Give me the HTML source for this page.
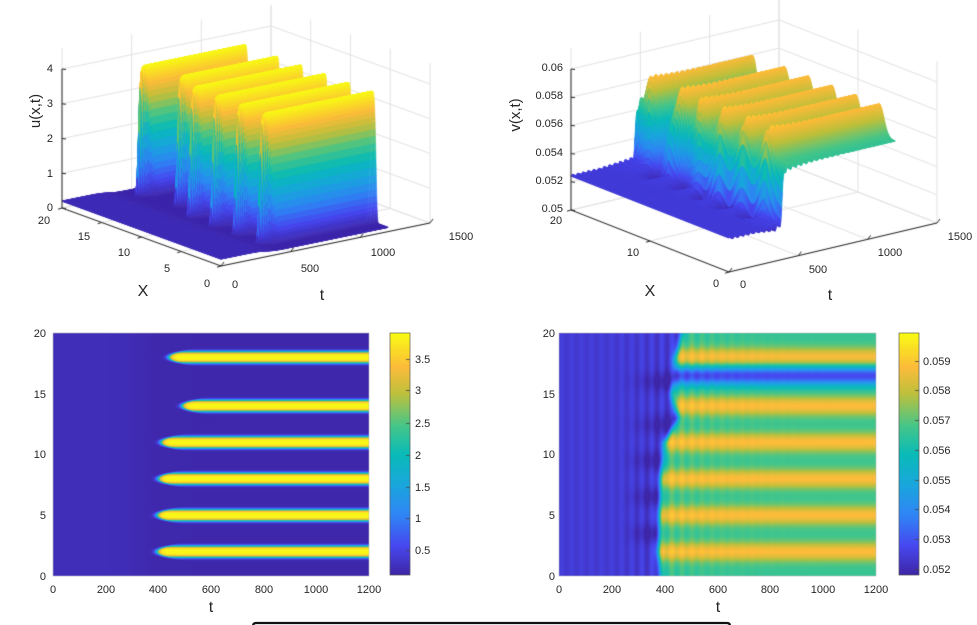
<!DOCTYPE html>
<html><head><meta charset="utf-8">
<style>
html,body{margin:0;padding:0;background:#fff;}
#wrap{position:relative;width:977px;height:625px;overflow:hidden;font-family:"Liberation Sans",Arial,sans-serif;}
canvas,svg{position:absolute;left:0;top:0;}
svg text{fill:#262626;font-size:11px;}
.lbl{font-size:16px;}
.ylbl{font-size:15px;}
</style></head>
<body>
<div id="wrap">
<canvas id="cv" width="977" height="625"></canvas>
<svg id="sv" width="977" height="625">
 <g>
  <g text-anchor="end">
   <text x="53" y="211">0</text><text x="53" y="177">1</text><text x="53" y="142">2</text><text x="53" y="107">3</text><text x="53" y="72">4</text>
  </g>
  <g text-anchor="middle">
   <text x="44" y="224">20</text><text x="84" y="240">15</text><text x="124" y="256">10</text><text x="167" y="272">5</text><text x="207" y="287">0</text>
  </g>
  <g text-anchor="middle">
   <text x="235" y="288">0</text><text x="310" y="272">500</text><text x="383" y="256">1000</text><text x="461" y="240">1500</text>
  </g>
  <text class="lbl" x="143" y="296" text-anchor="middle">X</text>
  <text class="lbl" x="322" y="300" text-anchor="middle">t</text>
  <text class="ylbl" transform="translate(40,111) rotate(-90)" text-anchor="middle">u(x,t)</text>
 </g>
 <g>
  <g text-anchor="end">
   <text x="563" y="212">0.05</text><text x="563" y="184">0.052</text><text x="563" y="156">0.054</text><text x="563" y="127">0.056</text><text x="563" y="99">0.058</text><text x="563" y="71">0.06</text>
  </g>
  <g text-anchor="middle">
   <text x="556" y="224">20</text><text x="633" y="256">10</text><text x="716" y="287">0</text>
  </g>
  <g text-anchor="middle">
   <text x="743" y="288">0</text><text x="818" y="273">500</text><text x="890" y="256">1000</text><text x="960" y="240">1500</text>
  </g>
  <text class="lbl" x="650" y="296" text-anchor="middle">X</text>
  <text class="lbl" x="830" y="300" text-anchor="middle">t</text>
  <text class="ylbl" transform="translate(520,115) rotate(-90)" text-anchor="middle">v(x,t)</text>
 </g>
 <g>
  <rect x="53" y="333" width="316" height="243" fill="none" stroke="#bbb" stroke-width="0.5"/>
  <g text-anchor="end">
   <text x="46" y="337">20</text><text x="46" y="398">15</text><text x="46" y="458">10</text><text x="46" y="519">5</text><text x="46" y="580">0</text>
  </g>
  <g text-anchor="middle">
   <text x="53" y="593">0</text><text x="106" y="593">200</text><text x="158" y="593">400</text><text x="211" y="593">600</text><text x="264" y="593">800</text><text x="316" y="593">1000</text><text x="369" y="593">1200</text>
  </g>
  <text class="lbl" x="211" y="612" text-anchor="middle">t</text>
  <rect x="390" y="333" width="20" height="242" fill="none" stroke="#444" stroke-width="0.6"/>
  <g>
   <text x="415" y="363">3.5</text><text x="415" y="394">3</text><text x="415" y="427">2.5</text><text x="415" y="459">2</text><text x="415" y="491">1.5</text><text x="415" y="522">1</text><text x="415" y="554">0.5</text>
  </g>
 </g>
 <g>
  <rect x="559" y="333" width="317" height="243" fill="none" stroke="#bbb" stroke-width="0.5"/>
  <g text-anchor="end">
   <text x="555" y="337">20</text><text x="555" y="398">15</text><text x="555" y="458">10</text><text x="555" y="519">5</text><text x="555" y="580">0</text>
  </g>
  <g text-anchor="middle">
   <text x="559" y="593">0</text><text x="612" y="593">200</text><text x="665" y="593">400</text><text x="718" y="593">600</text><text x="770" y="593">800</text><text x="823" y="593">1000</text><text x="876" y="593">1200</text>
  </g>
  <text class="lbl" x="718" y="612" text-anchor="middle">t</text>
  <rect x="899" y="333" width="20" height="242" fill="none" stroke="#444" stroke-width="0.6"/>
  <g>
   <text x="923" y="365">0.059</text><text x="923" y="394">0.058</text><text x="923" y="424">0.057</text><text x="923" y="454">0.056</text><text x="923" y="484">0.055</text><text x="923" y="513">0.054</text><text x="923" y="543">0.053</text><text x="923" y="573">0.052</text>
  </g>
 </g>
 <path d="M253,633 L253,626 Q253,623 256,623 L727,623 Q730,623 730,626 L730,633" fill="none" stroke="#111" stroke-width="2.2"/>
</svg>
</div>
<script>
const stripeX = [2, 5, 8, 11, 14, 18];
const uOnsetT = [395, 395, 400, 410, 490, 440];
const uPeak = 3.75;
const uBase = 0.12;
const vOnsetX = [0, 2, 5, 8, 11, 13, 15, 18, 20];
const vOnsetT = [385, 375, 380, 385, 400, 450, 425, 440, 465];
const vPre = 0.0524;
const vBg = 0.0565;
const vPeak = 0.0587;
const vDipX = 16.5;
const vDip = 0.0038;
const uClim = [0.1, 3.9];
const vClim = [0.0518, 0.0598];

const cmPos = [0, 0.12, 0.25, 0.37, 0.5, 0.62, 0.75, 0.86, 1];
const cmCol = [[62,38,168],[71,72,240],[47,134,245],[26,166,221],[9,187,184],[72,198,135],[190,192,60],[252,188,58],[249,251,21]];
function parula(f){
  f = Math.max(0, Math.min(1, f));
  for (let i = 1; i < cmPos.length; i++) {
    if (f <= cmPos[i]) {
      const a = (f - cmPos[i-1]) / (cmPos[i] - cmPos[i-1]);
      const c0 = cmCol[i-1], c1 = cmCol[i];
      return [c0[0]+(c1[0]-c0[0])*a, c0[1]+(c1[1]-c0[1])*a, c0[2]+(c1[2]-c0[2])*a];
    }
  }
  return cmCol[cmCol.length-1];
}
function sig(x){ return 1/(1+Math.exp(-x)); }
function interp(xs, ys, x){
  if (x <= xs[0]) return ys[0];
  for (let i = 1; i < xs.length; i++) if (x <= xs[i]) { const a=(x-xs[i-1])/(xs[i]-xs[i-1]); return ys[i-1]+(ys[i]-ys[i-1])*a; }
  return ys[ys.length-1];
}
function uVal(X, t){
  let u = uBase + 0.08*(1 - sig((t-330)/30));
  for (let i = 0; i < stripeX.length; i++) {
    const d = Math.abs(X - stripeX[i]);
    const g = Math.exp(-Math.pow(d/0.5, 4));
    const s = sig((t - uOnsetT[i] - 45*Math.pow(d/0.5, 2)) / 6);
    u += uPeak * g * s;
  }
  return u;
}
function vVal(X, t){
  const T = interp(vOnsetX, vOnsetT, X);
  const s = sig((t - T) / 6);
  let post = vBg;
  for (let i = 0; i < stripeX.length; i++) {
    const d = X - stripeX[i];
    post += (vPeak - vBg) * Math.exp(-(d*d)/(0.8*0.8));
  }
  post -= vDip * Math.exp(-Math.pow((X - vDipX)/0.8, 2));
  let btw = 0;
  for (let i = 0; i < stripeX.length - 1; i++) {
    const m = (stripeX[i] + stripeX[i+1]) / 2, d = X - m;
    btw += Math.exp(-(d*d)/0.6);
  }
  const ramp = Math.max(0, Math.min(1, (t - 200) / Math.max(1, T - 200)));
  const rip = Math.sin(2*Math.PI*t/38);
  let pre = vPre + 0.00025*rip*(0.4+ramp) - 0.0011*btw*ramp*ramp;
  const postRip = 0.0004*rip*Math.exp(-Math.max(0, t - T)/150);
  return pre*(1-s) + (post + postRip)*s;
}

const cv = document.getElementById('cv');
const ctx = cv.getContext('2d');
ctx.fillStyle = '#fff'; ctx.fillRect(0,0,977,625);

function heatmap(x0, y0, w, h, fn, clim){
  const img = ctx.createImageData(w, h);
  for (let j = 0; j < h; j++) {
    const X = 20 * (1 - (j + 0.5)/h);
    for (let i = 0; i < w; i++) {
      const t = 1200 * (i + 0.5)/w;
      const c = parula((fn(X, t) - clim[0])/(clim[1]-clim[0]));
      const k = (j*w + i)*4;
      img.data[k]=c[0]; img.data[k+1]=c[1]; img.data[k+2]=c[2]; img.data[k+3]=255;
    }
  }
  ctx.putImageData(img, x0, y0);
}
heatmap(53, 333, 316, 243, uVal, uClim);
heatmap(559, 333, 317, 243, vVal, vClim);
function colorbar(x0, y0, w, h){
  for (let j = 0; j < h; j++) {
    const c = parula(1 - j/(h-1));
    ctx.fillStyle = 'rgb('+c.map(Math.round).join(',')+')';
    ctx.fillRect(x0, y0+j, w, 1);
  }
}
colorbar(390, 333, 20, 242);
colorbar(899, 333, 20, 242);
ctx.strokeStyle = '#444'; ctx.lineWidth = 0.8;
[[390,[359,390,423,455,487,518,550]],[899,[361,390,420,450,480,509,539,569]]].forEach(([x,ys])=>ys.forEach(y=>{ctx.beginPath();ctx.moveTo(x+16,y+0.5);ctx.lineTo(x+20,y+0.5);ctx.stroke();}));

function projL(X, t, z){ return [221 - 7.95*X + 0.13933*t, 266 - 2.9*X - 0.02867*t - 34.75*z]; }
function projR(X, t, z){ return [729 - 7.9*X + 0.13867*t, 272 - 3.1*X - 0.03267*t - 14100*(z - 0.05)]; }

function line(p, q, col, lw){ ctx.strokeStyle = col; ctx.lineWidth = lw; ctx.beginPath(); ctx.moveTo(p[0],p[1]); ctx.lineTo(q[0],q[1]); ctx.stroke(); }

function grid3d(P, zTicks, xTicks, tTicks, z0, z1){
  const g = '#e3e3e3';
  zTicks.forEach(z => { line(P(20,0,z), P(20,1500,z), g, 1); line(P(20,1500,z), P(0,1500,z), g, 1); });
  tTicks.forEach(t => { line(P(20,t,z0), P(20,t,z1), g, 1); line(P(20,t,z0), P(0,t,z0), g, 1); });
  xTicks.forEach(X => { line(P(X,1500,z0), P(X,1500,z1), g, 1); line(P(X,0,z0), P(X,1500,z0), g, 1); });
}
function axes3d(P, zTicks, xTicks, tTicks, z0, z1){
  const a = '#262626';
  line(P(20,0,z0), P(20,0,z1), a, 1);
  line(P(20,0,z0), P(0,0,z0), a, 1);
  line(P(0,0,z0), P(0,1500,z0), a, 1);
  zTicks.forEach(z => { const p = P(20,0,z); line(p, [p[0]+4, p[1]+0.5], a, 1); });
  xTicks.forEach(X => { const p = P(X,0,z0); line(p, [p[0]-4, p[1]+1.2], a, 1); });
  tTicks.forEach(t => { const p = P(0,t,z0); line(p, [p[0]+3, p[1]-4], a, 1); });
}
function surface(P, fn, clim, dX, dt){
  const nX = Math.round(20/dX), nT = Math.round(1200/dt);
  const Z = [];
  for (let i = 0; i <= nX; i++) { const row = new Float64Array(nT+1); for (let j = 0; j <= nT; j++) row[j] = fn(i*dX, j*dt); Z.push(row); }
  for (let i = nX - 1; i >= 0; i--) {
    for (let j = nT - 1; j >= 0; j--) {
      const X0 = i*dX, X1 = (i+1)*dX, t0 = j*dt, t1 = (j+1)*dt;
      const z00 = Z[i][j], z10 = Z[i+1][j], z11 = Z[i+1][j+1], z01 = Z[i][j+1];
      const c = parula(((z00+z10+z11+z01)/4 - clim[0])/(clim[1]-clim[0]));
      const col = 'rgb('+(c[0]|0)+','+(c[1]|0)+','+(c[2]|0)+')';
      const a = P(X0,t0,z00), b = P(X1,t0,z10), d = P(X1,t1,z11), e = P(X0,t1,z01);
      ctx.fillStyle = col; ctx.strokeStyle = col; ctx.lineWidth = 0.6;
      ctx.beginPath(); ctx.moveTo(a[0],a[1]); ctx.lineTo(b[0],b[1]); ctx.lineTo(d[0],d[1]); ctx.lineTo(e[0],e[1]); ctx.closePath();
      ctx.fill(); ctx.stroke();
    }
  }
}
grid3d(projL, [0,1,2,3,4], [0,5,10,15,20], [0,500,1000,1500], 0, 4.6);
surface(projL, uVal, uClim, 0.02, 10);
axes3d(projL, [0,1,2,3,4], [0,5,10,15,20], [0,500,1000,1500], 0, 4);

grid3d(projR, [0.05,0.052,0.054,0.056,0.058,0.06], [0,10,20], [0,500,1000,1500], 0.05, 0.0615);
surface(projR, vVal, vClim, 0.04, 5);
axes3d(projR, [0.05,0.052,0.054,0.056,0.058,0.06], [0,10,20], [0,500,1000,1500], 0.05, 0.06);
</script>
</body></html>
